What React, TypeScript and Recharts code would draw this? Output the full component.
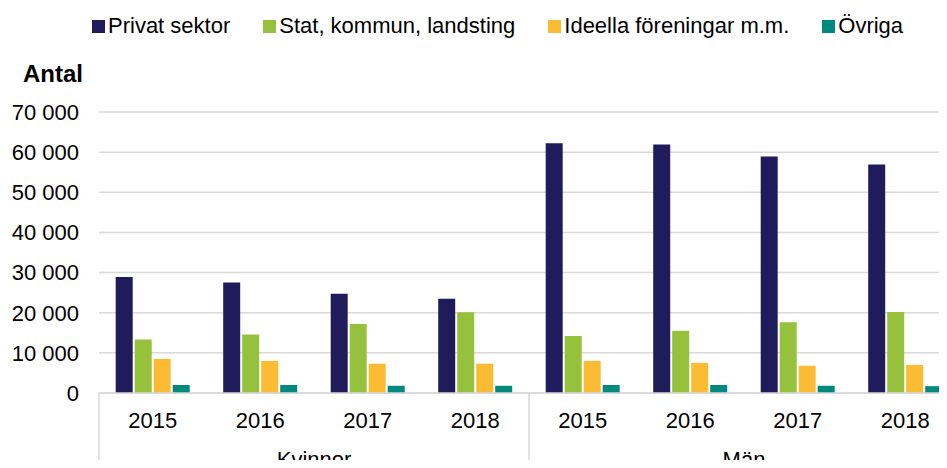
import React from 'react';
import { BarChart, Bar, XAxis, YAxis, CartesianGrid, Legend } from 'recharts';

const years = ['2015', '2016', '2017', '2018'];
const groups = ['Kvinnor', 'Män'];
const privat = [28900, 27500, 24700, 23500, 62200, 61900, 58900, 56900];
const stat = [13300, 14600, 17200, 20100, 14200, 15500, 17600, 20200];
const ideella = [8500, 8000, 7300, 7300, 8000, 7500, 6800, 7000];
const ovriga = [2000, 2000, 1800, 1800, 2000, 2000, 1800, 1700];
const yTicks = [0, 10000, 20000, 30000, 40000, 50000, 60000, 70000];

const seriesNames = ['Privat sektor', 'Stat, kommun, landsting', 'Ideella föreningar m.m.', 'Övriga'];
const colors = ['#201C5C', '#96C13D', '#FBBC33', '#00897F'];

const data = groups.flatMap((g, gi) =>
  years.map((y, yi) => {
    const i = gi * years.length + yi;
    return { year: y, group: g, pos: i + 0.5, privat: privat[i], stat: stat[i], ideella: ideella[i], ovriga: ovriga[i] };
  })
);

const nCat = groups.length * years.length;
const groupCenters = groups.map((_, gi) => gi * years.length + years.length / 2);
const groupEdges = [...groups.map((_, gi) => gi * years.length), nCat];
const groupTicks = [...groupEdges, ...groupCenters].sort((a, b) => a - b);

const FONT = '"Liberation Sans", Arial, sans-serif';
const fmt = (v: number) => String(v).replace(/\B(?=(\d{3})+(?!\d))/g, ' ');

const YearTick = (props: any) => {
  const { x, y, payload } = props;
  return (
    <text x={x} y={y + 35} textAnchor="middle" fontSize={22} fontFamily={FONT} fill="#000">
      {payload.value}
    </text>
  );
};

const GroupTick = (props: any) => {
  const { x, y, payload } = props;
  const v = payload.value;
  const ci = groupCenters.indexOf(v);
  if (ci >= 0) {
    return (
      <text x={x} y={y + 37} textAnchor="middle" fontSize={22} fontFamily={FONT} fill="#000">
        {groups[ci]}
      </text>
    );
  }
  return <line x1={x} x2={x} y1={y - 37} y2={y + 40} stroke="#D9D9D9" strokeWidth={1.5} />;
};

const LegendContent = () => (
  <div style={{ display: 'flex', fontFamily: FONT, fontSize: 22, lineHeight: '22px', color: '#000', whiteSpace: 'nowrap' }}>
    {seriesNames.map((n, i) => (
      <div key={n} style={{ display: 'flex', alignItems: 'flex-start', marginRight: i < seriesNames.length - 1 ? 33 : 0 }}>
        <span style={{ display: 'inline-block', width: 13, height: 13, background: colors[i], marginTop: 5, marginRight: 3 }} />
        <span>{n}</span>
      </div>
    ))}
  </div>
);

const AntalLabel = () => (
  <text x={15} y={74} fontSize={24} fontWeight="bold" fontFamily={FONT} fill="#000">
    Antal
  </text>
);

export default function App() {
  return (
    <div style={{ width: 939, height: 460, overflow: 'hidden', marginBottom: -8 }}>
      <BarChart
        width={951}
        height={460}
        data={data}
        margin={{ top: 104, right: 0, bottom: 0, left: 0 }}
        barCategoryGap={16.7}
        barGap={2}
      >
        <CartesianGrid horizontal vertical={false} stroke="#D9D9D9" strokeWidth={1.5} />
        <XAxis
          xAxisId={0}
          dataKey="year"
          height={37}
          tickSize={0}
          tickMargin={0}
          tickLine={false}
          axisLine={{ stroke: '#D9D9D9', strokeWidth: 1.5 }}
          interval={0}
          tick={<YearTick />}
        />
        <XAxis
          xAxisId={1}
          dataKey="pos"
          type="number"
          domain={[0, nCat]}
          ticks={groupTicks}
          allowDataOverflow
          height={38}
          tickSize={0}
          tickMargin={0}
          tickLine={false}
          axisLine={false}
          interval={0}
          tick={<GroupTick />}
        />
        <YAxis
          width={91}
          domain={[0, 70000]}
          ticks={yTicks}
          tickFormatter={fmt}
          tickLine={false}
          axisLine={false}
          tickSize={6}
          tickMargin={14}
          tick={{ fontSize: 22, fontFamily: FONT, fill: '#000' }}
          label={AntalLabel}
        />
        <Legend
          layout="horizontal"
          verticalAlign="middle"
          align="center"
          content={LegendContent}
          wrapperStyle={{ top: 7, left: 84, width: 'auto', height: 'auto' }}
        />
        <Bar xAxisId={0} dataKey="privat" name={seriesNames[0]} fill={colors[0]} isAnimationActive={false} />
        <Bar xAxisId={0} dataKey="stat" name={seriesNames[1]} fill={colors[1]} isAnimationActive={false} />
        <Bar xAxisId={0} dataKey="ideella" name={seriesNames[2]} fill={colors[2]} isAnimationActive={false} />
        <Bar xAxisId={0} dataKey="ovriga" name={seriesNames[3]} fill={colors[3]} isAnimationActive={false} />
      </BarChart>
    </div>
  );
}
